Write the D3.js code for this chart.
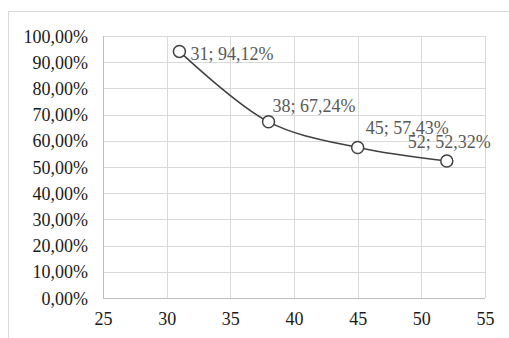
<!DOCTYPE html>
<html>
<head>
<meta charset="utf-8">
<script src="https://cdn.jsdelivr.net/npm/d3@7"></script>
<style>
  html, body { margin: 0; padding: 0; background: #fff; }
  svg { display: block; }
</style>
</head>
<body>
<svg id="chart" width="509" height="338"></svg>
<script>
// Series: x value and share (%)
const xValues = [31, 38, 45, 52];
const yValues = [94.12, 67.24, 57.43, 52.32];
const pointLabels = ["31; 94,12%", "38; 67,24%", "45; 57,43%", "52; 52,32%"];

// Axis ticks
const xTicks = [25, 30, 35, 40, 45, 50, 55];
const yTicks = [0, 10, 20, 30, 40, 50, 60, 70, 80, 90, 100];
const yTickLabels = ["0,00%", "10,00%", "20,00%", "30,00%", "40,00%", "50,00%",
                     "60,00%", "70,00%", "80,00%", "90,00%", "100,00%"];

const svg = d3.select("#chart");
const W = 509, H = 338;
const plot = { left: 103, top: 36, right: 485, bottom: 298 };
const font = "'Liberation Serif', 'Times New Roman', serif";

// Chart area frame
svg.append("rect")
  .attr("x", 8.5).attr("y", 11.5)
  .attr("width", W + 10).attr("height", H + 10)
  .attr("fill", "#fff").attr("stroke", "#d9d9d9").attr("stroke-width", 1);

const x = d3.scaleLinear().domain([25, 55]).range([plot.left, plot.right]);
const y = d3.scaleLinear().domain([0, 100]).range([plot.bottom, plot.top]);

// Gridlines
const grid = svg.append("g").attr("stroke", "#d9d9d9").attr("stroke-width", 1);
grid.selectAll("line.v").data(xTicks).join("line")
  .attr("x1", d => Math.round(x(d)) + 0.5).attr("x2", d => Math.round(x(d)) + 0.5)
  .attr("y1", plot.top).attr("y2", plot.bottom);
grid.selectAll("line.h").data(yTicks).join("line")
  .attr("y1", d => Math.round(y(d)) + 0.5).attr("y2", d => Math.round(y(d)) + 0.5)
  .attr("x1", plot.left).attr("x2", plot.right);

// Axes (labels only; lines come from the gridlines)
const yAxis = svg.append("g")
  .attr("transform", `translate(${plot.left},0)`)
  .call(d3.axisLeft(y).tickValues(yTicks).tickSize(0).tickPadding(15)
    .tickFormat((d, i) => yTickLabels[i]));
yAxis.select(".domain").remove();
yAxis.selectAll("text")
  .attr("font-family", font).attr("font-size", 18).attr("fill", "#1a1a1a")
  .attr("dy", "0.34em");

const xAxis = svg.append("g")
  .attr("transform", `translate(0,${plot.bottom})`)
  .call(d3.axisBottom(x).tickValues(xTicks).tickSize(0).tickPadding(14)
    .tickFormat(d3.format("d")));
xAxis.select(".domain").remove();
xAxis.selectAll("text")
  .attr("font-family", font).attr("font-size", 18).attr("fill", "#1a1a1a");

// Plot area border on left/bottom a touch darker
svg.append("path")
  .attr("d", `M${plot.left + 0.5},${plot.top}V${plot.bottom + 0.5}H${plot.right}`)
  .attr("fill", "none").attr("stroke", "#bfbfbf").attr("stroke-width", 1);

const pts = xValues.map((v, i) => [x(v), y(yValues[i])]);

// Smoothed line
svg.append("path")
  .attr("d", d3.line().curve(d3.curveCatmullRom.alpha(0.5))(pts))
  .attr("fill", "none").attr("stroke", "#404040").attr("stroke-width", 1.5);

// Markers
svg.selectAll("circle.pt").data(pts).join("circle")
  .attr("cx", d => d[0]).attr("cy", d => d[1]).attr("r", 6)
  .attr("fill", "#fff").attr("stroke", "#404040").attr("stroke-width", 1.5);

// Data labels, placed around each marker
const labelOffsets = [[11, 8.5], [4, -10], [8, -14], [-39, -13]];
svg.selectAll("text.lbl").data(pts).join("text")
  .attr("x", (d, i) => d[0] + labelOffsets[i][0])
  .attr("y", (d, i) => d[1] + labelOffsets[i][1])
  .attr("font-family", font).attr("font-size", 18).attr("fill", "#595959")
  .text((d, i) => pointLabels[i]);
</script>
</body>
</html>
